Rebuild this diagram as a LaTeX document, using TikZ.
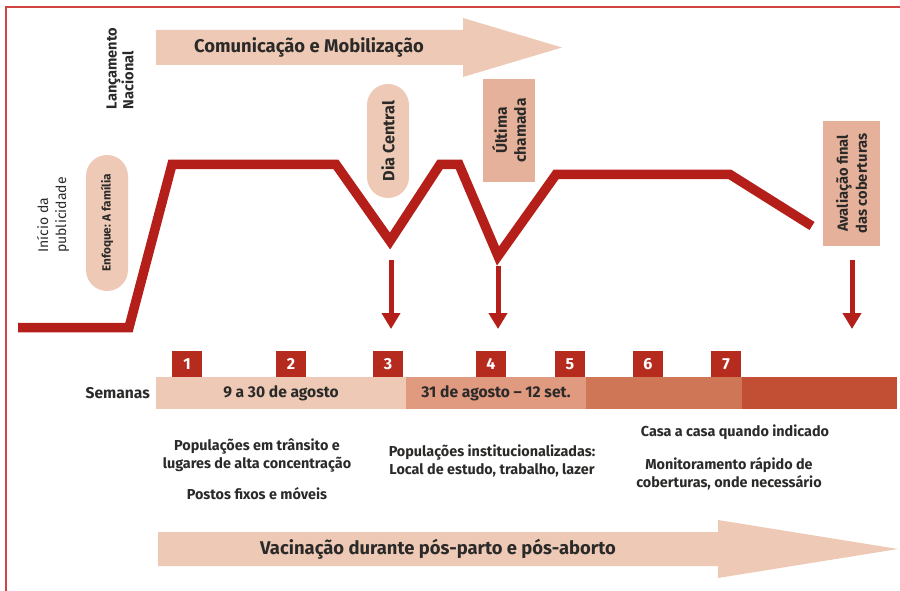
\documentclass[tikz,border=0pt]{standalone}
\usepackage{fontspec}
\setmainfont{Fira Sans}
\usetikzlibrary{arrows.meta}
\definecolor{peach}{HTML}{EECAB6}
\definecolor{peachdark}{HTML}{E6B19A}
\definecolor{segtwo}{HTML}{DF9A80}
\definecolor{segthree}{HTML}{CE7656}
\definecolor{segfour}{HTML}{C24F34}
\definecolor{numred}{HTML}{B52C1F}
\definecolor{linered}{HTML}{B41F1A}
\definecolor{borderred}{HTML}{D0453F}
\definecolor{txt}{HTML}{2B2A29}
\begin{document}
\begin{tikzpicture}[x=1pt,y=-1pt,
  every node/.style={text=txt, inner sep=0pt},
  fbig/.style={font=\fontsize{18.4}{20}\selectfont\bfseries},
  fmid/.style={font=\fontsize{15.6}{17}\selectfont\bfseries},
  fbody/.style={font=\fontsize{14.4}{17.5}\selectfont\bfseries, align=center},
  freg/.style={font=\fontsize{15}{17}\selectfont, align=left},
  pill/.style={fill=peach, rounded corners=21pt, minimum height=42pt, rotate=90, fmid},
  tagbox/.style={fill=peachdark, rotate=90, align=center, fmid},
  numbox/.style={fill=numred, minimum width=30pt, minimum height=26pt, text=white, font=\fontsize{16}{17}\selectfont\bfseries},
  seg/.style={minimum height=32pt, fmid},
  bigline/.style={draw=linered, line width=9.5pt, miter limit=10},
  downarr/.style={draw=linered, line width=5pt, -{Triangle[width=18pt,length=16pt]}},
  bigarrow/.style={fill=peach}
]
\useasboundingbox (0,0) rectangle (900,591);
% frame
\draw[borderred, line width=1.5pt] (6,591) -- (6,7) -- (900,7);

% top arrow
\fill[bigarrow] (156,30) -- (463,30) -- (463,18) -- (562,47.5) -- (463,77) -- (463,65) -- (156,65) -- cycle;
\node[fbig] (comm) at (309,47.5) {Comunicação e Mobilização};

% bottom arrow
\fill[bigarrow] (158,532) -- (718,532) -- (718,520) -- (898,549) -- (718,578) -- (718,566) -- (158,566) -- cycle;
\node[fbig] (vac) at (438,549) {Vacinação durante pós-parto e pós-aborto};

% rotated labels
\node[freg, rotate=90, anchor=west, font=\fontsize{14.6}{14.5}\selectfont\bfseries] (lanc) at (120,109.5) {Lançamento\\Nacional};
\node[freg, rotate=90, anchor=west, font=\fontsize{14}{18}\selectfont] (inicio) at (53,253) {Início da\\publicidade};
\node[pill, minimum width=136pt, font=\fontsize{11.8}{13}\selectfont\bfseries] (enf) at (107,223) {Enfoque: A família};
\node[pill, minimum width=114pt, font=\fontsize{16.2}{17}\selectfont\bfseries] (dia) at (388,141) {Dia Central};
\node[tagbox, minimum width=103pt, minimum height=52pt, font=\fontsize{15.5}{19}\selectfont\bfseries] (ult) at (509,130.5) {Última\\chamada};
\node[tagbox, minimum width=125pt, minimum height=57pt, font=\fontsize{14.7}{19}\selectfont\bfseries] (aval) at (851.5,183.5) {Avaliação final\\das coberturas};

% main red line
\coordinate (p0) at (18,327.5);
\coordinate (p1) at (129,327.5);
\coordinate (p2) at (172,164.5);
\coordinate (p3) at (336,164.5);
\coordinate (p4) at (390,241);
\coordinate (p5) at (440,164.5);
\coordinate (p6) at (459,164.5);
\coordinate (p7) at (498,256);
\coordinate (p8) at (556,174.5);
\coordinate (p9) at (730,174.5);
\coordinate (p10) at (812,226);
\draw[bigline] (p0) -- (p1) -- (p2) -- (p3) -- (p4) -- (p5) -- (p6) -- (p7) -- (p8) -- (p9) -- (p10);

% down arrows
\coordinate (a1s) at (391,260);
\coordinate (a1e) at (391,329);
\coordinate (a2s) at (498,266);
\coordinate (a2e) at (498,329);
\coordinate (a3s) at (852,260);
\coordinate (a3e) at (852,329);
\draw[downarr] (a1s) -- (a1e);
\draw[downarr] (a2s) -- (a2e);
\draw[downarr] (a3s) -- (a3e);

% weeks bar
\node[seg, fill=peach, minimum width=250pt] (s1) at (281,393) {9 a 30 de agosto};
\node[seg, fill=segtwo, minimum width=180pt] (s2) at (496,393) {31 de agosto -- 12 set.};
\node[seg, fill=segthree, minimum width=156pt] (s3) at (664,393) {};
\node[seg, fill=segfour, minimum width=155pt] (s4) at (819.5,393) {};
\node[fmid, anchor=east] (sem) at (150,393) {Semanas};

% numbers
\node[numbox] (n1) at (187,364) {1};
\node[numbox] (n2) at (291,364) {2};
\node[numbox] (n3) at (388,364) {3};
\node[numbox] (n4) at (491,364) {4};
\node[numbox] (n5) at (570,364) {5};
\node[numbox] (n6) at (648,364) {6};
\node[numbox] (n7) at (726,364) {7};

% descriptions
\node[fbody] (d1) at (257,455.5) {Populações em trânsito e\\lugares de alta concentração};
\node[fbody] (d2) at (257,494) {Postos fixos e móveis};
\node[fbody] (d3) at (492,461) {Populações institucionalizadas:\\Local de estudo, trabalho, lazer};
\node[fbody] (d4) at (735,432) {Casa a casa quando indicado};
\node[fbody] (d5) at (729,474) {Monitoramento rápido de\\coberturas, onde necessário};
\end{tikzpicture}
\end{document}
